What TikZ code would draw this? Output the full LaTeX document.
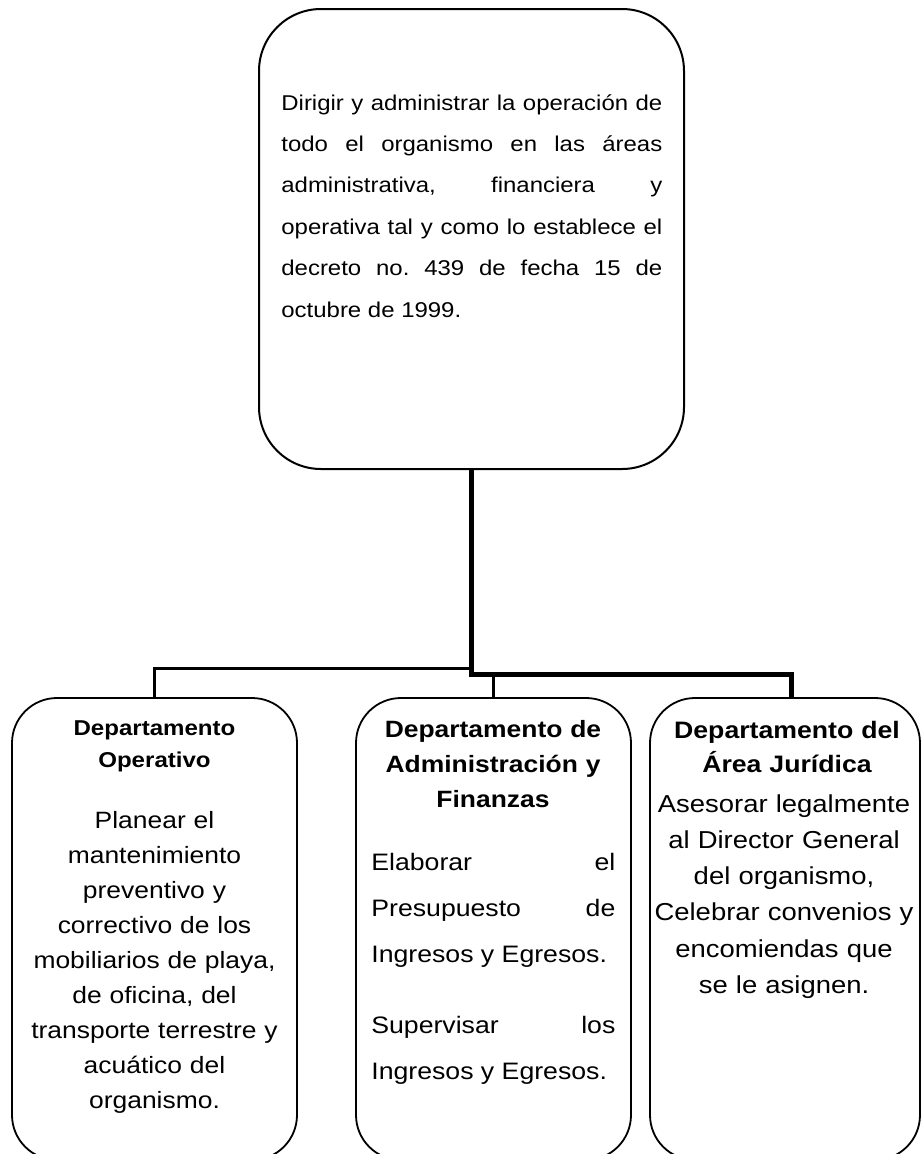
\documentclass[tikz,border=0pt]{standalone}
\usepackage{fontspec}
\setmainfont{Liberation Sans}[FakeStretch=1.12]
\usepackage{tikz}
\tikzset{every picture/.style={line width=0.75pt}}
\tikzset{
	orgbox/.style={draw, line width=1.8pt, rectangle, inner sep=0pt, rounded corners=45pt},
	trunk/.style={line width=5pt, line join=miter},
	branch/.style={line width=3pt, line join=miter},
	dirtext/.style={inner sep=0pt, anchor=base west, text width=381pt, align=justify, font=\fontsize{21.4}{41.4}\selectfont},
	titletext/.style={inner sep=0pt, anchor=base, text width=280pt, align=center},
	bodytext/.style={inner sep=0pt, anchor=base, text width=280pt, align=center},
}

\begin{document}
\frenchspacing
\begin{tikzpicture}[x=1pt,y=1pt,yscale=-1,xscale=1]
	\path[use as bounding box] (0,0) rectangle (922,1154);
	\clip (0,0) rectangle (922,1154);
	
	%Shape: Rounded Rect [director]
	\node [orgbox, line width=2pt, rounded corners=62pt, minimum width=425pt, minimum height=460pt] (dir) at (471.5,239) {};
	%Shape: Rounded Rect [operativo]
	\node [orgbox, minimum width=285pt, minimum height=462pt] (oper) at (154.5,929) {};
	%Shape: Rounded Rect [administracion]
	\node [orgbox, minimum width=275pt, minimum height=462pt] (adm) at (493.5,929) {};
	%Shape: Rounded Rect [juridica]
	\node [orgbox, minimum width=270pt, minimum height=462pt] (jur) at (785,929) {};
	
	\coordinate (jl) at (471.5,668);
	\coordinate (jr) at (791,674);
	
	%Straight Lines [trunk]
	\draw [trunk] (dir.south) |- (jr) -- (jur.north -| jr) ;
	%Straight Lines [left branch]
	\draw [branch] (oper.north) |- (jl) ;
	%Straight Lines [middle branch]
	\draw [branch] (adm.north) -- (adm.north |- jr) ;
	
	% Text Node
	\node [dirtext] (dirbody) at (281,110) {Dirigir y administrar la operación de\linebreak todo el organismo en las áreas\linebreak administrativa, financiera y\linebreak operativa tal y como lo establece el\linebreak decreto no. 439 de fecha 15 de\linebreak octubre de 1999.};
	% Text Node
	\node [titletext, font=\bfseries\fontsize{21.5}{32.5}\selectfont] (opertitle) at (154.5,735) {Departamento\\Operativo};
	% Text Node
	\node [bodytext, font=\fontsize{23.6}{35}\selectfont] (operbody) at (154.5,828) {Planear el\\mantenimiento\\preventivo y\\correctivo de los\\mobiliarios de playa,\\de oficina, del\\transporte terrestre y\\acuático del\\organismo.};
	% Text Node
	\node [titletext, font=\bfseries\fontsize{23.6}{35}\selectfont] (admtitle) at (493,737) {Departamento de\\Administración y\\Finanzas};
	% Text Node
	\node [inner sep=0pt, anchor=base west, text width=244pt, align=justify, font=\fontsize{23.8}{46}\selectfont] (admbody) at (371,870) {Elaborar el\linebreak Presupuesto de\linebreak Ingresos y Egresos.\par\vskip 25pt Supervisar los\linebreak Ingresos y Egresos.};
	% Text Node
	\node [titletext, font=\bfseries\fontsize{23.8}{34}\selectfont] (jurtitle) at (787,738) {Departamento del\\Área Jurídica};
	% Text Node
	\node [bodytext, font=\fontsize{24.5}{36.3}\selectfont] (jurbody) at (784,812) {Asesorar legalmente\\al Director General\\del organismo,\\Celebrar convenios y\\encomiendas que\\se le asignen.};
	
\end{tikzpicture}
\end{document}
